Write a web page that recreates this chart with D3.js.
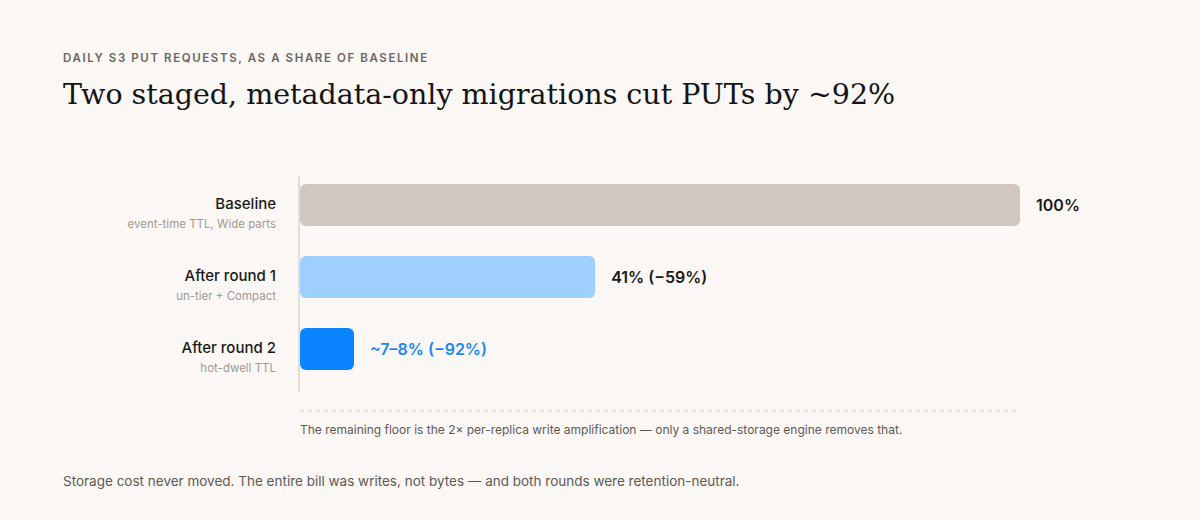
<!DOCTYPE html>
<html>
<head>
<meta charset="utf-8">
<script src="https://cdn.jsdelivr.net/npm/d3@7"></script>
<style>
  html, body { margin: 0; padding: 0; background: #faf7f4; }
  svg { display: block; }
</style>
</head>
<body>
<svg id="chart" width="1200" height="520"></svg>
<script>
const categories = ["Baseline", "After round 1", "After round 2"];
const sublabels = ["event-time TTL, Wide parts", "un-tier + Compact", "hot-dwell TTL"];
const values = [100, 41, 7.5];
const valueLabels = ["100%", "41% (\u221259%)", "~7\u20138% (\u221292%)"];
const barColors = ["#d0c7c1", "#9ecfff", "#0a84ff"];
const labelColors = ["#1a1a1a", "#1a1a1a", "#1a88f0"];

const kicker = "DAILY S3 PUT REQUESTS, AS A SHARE OF BASELINE";
const title = "Two staged, metadata-only migrations cut PUTs by ~92%";
const note = "The remaining floor is the 2\u00d7 per-replica write amplification \u2014 only a shared-storage engine removes that.";
const footer = "Storage cost never moved. The entire bill was writes, not bytes \u2014 and both rounds were retention-neutral.";

const svg = d3.select("#chart");
const sans = "Inter, 'Noto Sans', sans-serif";

svg.append("rect").attr("width", 1200).attr("height", 520).attr("fill", "#faf7f4");

svg.append("text").attr("x", 63).attr("y", 62)
  .attr("font-family", sans).attr("font-size", 11.5).attr("font-weight", 600)
  .attr("letter-spacing", "1.6px").attr("fill", "#6b6661").text(kicker);

svg.append("text").attr("x", 63).attr("y", 104)
  .attr("font-family", "'DejaVu Serif', 'Liberation Serif', serif").attr("font-size", 28.5)
  .attr("fill", "#141414").text(title);

const x = d3.scaleLinear().domain([0, 100]).range([300, 1020]);
const y = d3.scaleBand().domain(categories).range([169, 385])
  .paddingInner(30 / 72).paddingOuter(15 / 72);

// axis line
svg.append("line").attr("x1", 299).attr("x2", 299).attr("y1", 176).attr("y2", 392)
  .attr("stroke", "#dcd6d0").attr("stroke-width", 1.5);

const rows = svg.selectAll("g.row").data(categories).join("g").attr("class", "row");

rows.append("rect")
  .attr("x", x(0)).attr("y", d => y(d))
  .attr("width", (d, i) => x(values[i]) - x(0))
  .attr("height", y.bandwidth())
  .attr("rx", 6).attr("fill", (d, i) => barColors[i]);

rows.append("text")
  .attr("x", 276).attr("y", d => y(d) + y.bandwidth() / 2 + 4)
  .attr("text-anchor", "end").attr("font-family", sans).attr("font-size", 15)
  .attr("font-weight", 500).attr("fill", "#1a1a1a").text(d => d);

rows.append("text")
  .attr("x", 276).attr("y", d => y(d) + y.bandwidth() / 2 + 23)
  .attr("text-anchor", "end").attr("font-family", sans).attr("font-size", 11.5)
  .attr("fill", "#a09a95").text((d, i) => sublabels[i]);

rows.append("text")
  .attr("x", (d, i) => x(values[i]) + 16).attr("y", d => y(d) + y.bandwidth() / 2 + 6)
  .attr("font-family", sans).attr("font-size", 16).attr("font-weight", 600)
  .attr("fill", (d, i) => labelColors[i]).text((d, i) => valueLabels[i]);

// dashed floor line
svg.append("line").attr("x1", 300).attr("x2", 1016).attr("y1", 411).attr("y2", 411)
  .attr("stroke", "#d6d0ca").attr("stroke-width", 1).attr("stroke-dasharray", "4,4");

svg.append("text").attr("x", 300).attr("y", 434)
  .attr("font-family", sans).attr("font-size", 12).attr("fill", "#5e5a56").text(note);

svg.append("text").attr("x", 63).attr("y", 486)
  .attr("font-family", sans).attr("font-size", 13.5).attr("fill", "#5e5a56").text(footer);
</script>
</body>
</html>
